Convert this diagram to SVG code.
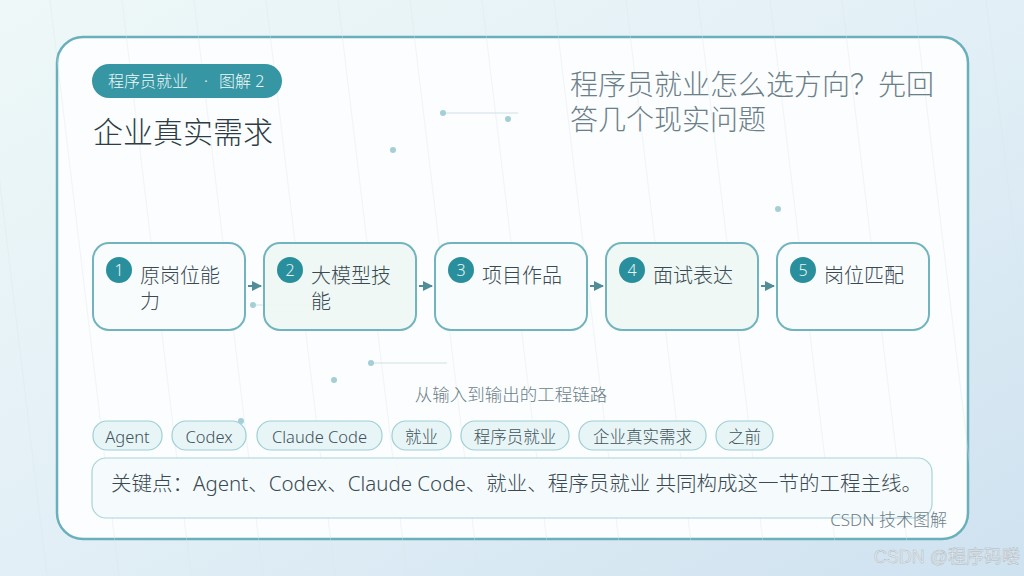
<svg xmlns="http://www.w3.org/2000/svg" width="1024" height="576" viewBox="0 0 1024 576">
<defs>
<linearGradient id="bg" x1="0" y1="0" x2="1" y2="1">
<stop offset="0" stop-color="#eef8f8"/>
<stop offset="0.5" stop-color="#e2eff6"/>
<stop offset="1" stop-color="#cfe2f0"/>
</linearGradient>
<marker id="arr" viewBox="0 0 10 10" refX="9" refY="5" markerWidth="5" markerHeight="5" orient="auto" markerUnits="strokeWidth">
<path d="M0,0 L10,5 L0,10 z" fill="#4f8e99"/>
</marker>
<style>
.t{font-family:"Noto Sans","Noto Sans CJK SC",sans-serif;font-weight:300;}
.node{fill:#f7fcfd;fill-opacity:0.9;stroke:#72b4be;stroke-width:2;}
.node.alt{fill:#edf7f3;}
.badge{fill:#2a8f9c;}
.num{font-size:16px;fill:#e8f6f7;text-anchor:middle;}
.lbl{font-size:20px;fill:#3a4a52;}
.tag{fill:#e8f5f6;stroke:#9fcfd6;stroke-width:1.2;}
.tagt{font-size:16.5px;fill:#3f525b;text-anchor:middle;}
.dot{fill:#a4cfd7;}
.deco{stroke:#cfe1e5;stroke-width:1;}
.grain{stroke:#dde6e9;stroke-width:1;opacity:0.35;}
.conn{stroke:#4f8e99;stroke-width:2;fill:none;}
</style>
</defs>
<rect x="0" y="0" width="1024" height="576" fill="url(#bg)"/>
<rect id="card" x="57" y="37" width="911" height="502" rx="26" fill="#fbfdfe" stroke="#6ab0bb" stroke-width="2.5"/>
<g id="grain">
<line class="grain" x1="-22" y1="0" x2="47" y2="576"/>
<line class="grain" x1="50" y1="0" x2="119" y2="576"/>
<line class="grain" x1="122" y1="0" x2="191" y2="576"/>
<line class="grain" x1="194" y1="0" x2="263" y2="576"/>
<line class="grain" x1="266" y1="0" x2="335" y2="576"/>
<line class="grain" x1="338" y1="0" x2="407" y2="576"/>
<line class="grain" x1="410" y1="0" x2="479" y2="576"/>
<line class="grain" x1="482" y1="0" x2="551" y2="576"/>
<line class="grain" x1="554" y1="0" x2="623" y2="576"/>
<line class="grain" x1="626" y1="0" x2="695" y2="576"/>
<line class="grain" x1="698" y1="0" x2="767" y2="576"/>
<line class="grain" x1="770" y1="0" x2="839" y2="576"/>
<line class="grain" x1="842" y1="0" x2="911" y2="576"/>
<line class="grain" x1="914" y1="0" x2="983" y2="576"/>
<line class="grain" x1="986" y1="0" x2="1055" y2="576"/>
</g>
<g id="decor">
<line class="deco" x1="443" y1="113" x2="518" y2="113"/>
<circle class="dot" cx="443" cy="113" r="3"/>
<circle class="dot" cx="508" cy="119" r="3"/>
<circle class="dot" cx="393" cy="150" r="3"/>
<circle class="dot" cx="778" cy="209" r="3"/>
<line class="deco" x1="253" y1="305" x2="310" y2="305"/>
<circle class="dot" cx="253" cy="305" r="3"/>
<line class="deco" x1="371" y1="363" x2="447" y2="363"/>
<circle class="dot" cx="371" cy="363" r="3"/>
<circle class="dot" cx="334" cy="380" r="3"/>
<circle class="dot" cx="241" cy="421" r="3"/>
</g>
<g id="header">
<rect x="92" y="64" width="190" height="34" rx="17" fill="#3796a3"/>
<text class="t" x="108" y="87" font-size="16" fill="#eef8f9">程序员就业</text>
<text class="t" x="206" y="87" font-size="16" fill="#eef8f9" text-anchor="middle">·</text>
<text class="t" x="219" y="87" font-size="16" fill="#eef8f9">图解 2</text>
<text class="t" x="93" y="143" font-size="30" fill="#2e3d45">企业真实需求</text>
<text class="t" x="570" y="95" font-size="28" fill="#6b7f88">程序员就业怎么选方向？先回</text>
<text class="t" x="570" y="130" font-size="28" fill="#6b7f88">答几个现实问题</text>
</g>
<g id="connectors">
<line class="conn" x1="248" y1="286" x2="261" y2="286" marker-end="url(#arr)"/>
<line class="conn" x1="419" y1="286" x2="432" y2="286" marker-end="url(#arr)"/>
<line class="conn" x1="590" y1="286" x2="603" y2="286" marker-end="url(#arr)"/>
<line class="conn" x1="761" y1="286" x2="774" y2="286" marker-end="url(#arr)"/>
</g>
<g id="node1">
<rect class="node" x="93" y="243" width="152" height="87" rx="16"/>
<circle class="badge" cx="119" cy="270" r="13"/>
<text class="t num" x="119" y="276">1</text>
<text class="t lbl" x="140" y="283">原岗位能</text>
<text class="t lbl" x="140" y="309">力</text>
</g>
<g id="node2">
<rect class="node alt" x="264" y="243" width="152" height="87" rx="16"/>
<circle class="badge" cx="290" cy="270" r="13"/>
<text class="t num" x="290" y="276">2</text>
<text class="t lbl" x="311" y="283">大模型技</text>
<text class="t lbl" x="311" y="309">能</text>
</g>
<g id="node3">
<rect class="node" x="435" y="243" width="152" height="87" rx="16"/>
<circle class="badge" cx="461" cy="270" r="13"/>
<text class="t num" x="461" y="276">3</text>
<text class="t lbl" x="482" y="283">项目作品</text>
</g>
<g id="node4">
<rect class="node alt" x="606" y="243" width="152" height="87" rx="16"/>
<circle class="badge" cx="632" cy="270" r="13"/>
<text class="t num" x="632" y="276">4</text>
<text class="t lbl" x="653" y="283">面试表达</text>
</g>
<g id="node5">
<rect class="node" x="777" y="243" width="152" height="87" rx="16"/>
<circle class="badge" cx="803" cy="270" r="13"/>
<text class="t num" x="803" y="276">5</text>
<text class="t lbl" x="824" y="283">岗位匹配</text>
</g>
<text class="t" x="511" y="401" font-size="17.5" fill="#6b7f88" text-anchor="middle">从输入到输出的工程链路</text>
<g id="tags">
<rect class="tag" x="93" y="421" width="69" height="29" rx="14"/><text class="t tagt" x="127.5" y="443">Agent</text>
<rect class="tag" x="172" y="421" width="74" height="29" rx="14"/><text class="t tagt" x="209" y="443">Codex</text>
<rect class="tag" x="257" y="421" width="125" height="29" rx="14"/><text class="t tagt" x="319.5" y="443">Claude Code</text>
<rect class="tag" x="392" y="421" width="59" height="29" rx="14"/><text class="t tagt" x="421.5" y="443">就业</text>
<rect class="tag" x="461" y="421" width="108" height="29" rx="14"/><text class="t tagt" x="515" y="443">程序员就业</text>
<rect class="tag" x="579" y="421" width="127" height="29" rx="14"/><text class="t tagt" x="642.5" y="443">企业真实需求</text>
<rect class="tag" x="716" y="421" width="57" height="29" rx="14"/><text class="t tagt" x="744.5" y="443">之前</text>
</g>
<g id="keypoint">
<rect x="92" y="458" width="840" height="60" rx="14" fill="#f5fbfc" stroke="#a8d3d9" stroke-width="1.2"/>
<text class="t" x="111" y="491" font-size="20.5" fill="#3a4a52">关键点：Agent、Codex、Claude Code、就业、程序员就业 共同构成这一节的工程主线。</text>
</g>
<text class="t" x="947" y="526" font-size="17" fill="#6b7f88" text-anchor="end">CSDN 技术图解</text>
<text x="1020" y="563" font-family="'Liberation Sans','Noto Sans CJK SC',sans-serif" font-size="18" fill="#e6ebef" stroke="#aeb8c0" stroke-width="0.45" text-anchor="end">CSDN @程序码喽</text>
</svg>
